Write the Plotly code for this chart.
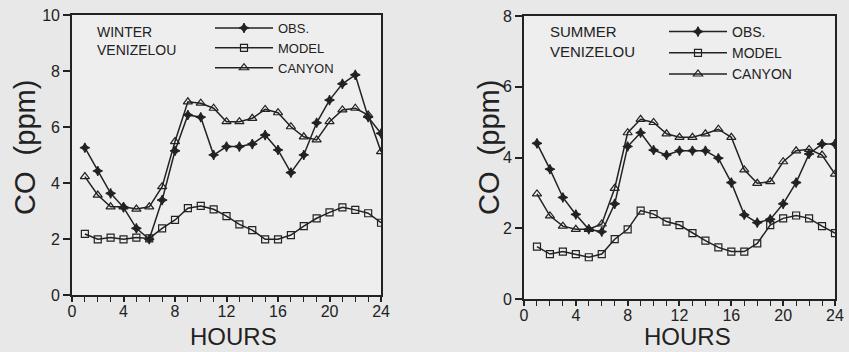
import plotly.graph_objects as go

hours = list(range(1, 25))

winter_obs = [5.26, 4.43, 3.63, 3.13, 2.38, 1.99, 3.39, 5.15, 6.43, 6.35, 5.0, 5.3,
              5.3, 5.39, 5.71, 5.18, 4.37, 5.0, 6.15, 6.96, 7.54, 7.86, 6.35, 5.77]
winter_model = [2.18, 1.99, 2.05, 1.99, 2.05, 2.02, 2.38, 2.68, 3.10, 3.18, 3.06, 2.82,
                2.52, 2.32, 1.99, 1.99, 2.14, 2.46, 2.74, 2.95, 3.13, 3.04, 2.92, 2.58]
winter_canyon = [4.23, 3.57, 3.15, 3.15, 3.07, 3.15, 3.87, 5.48, 6.90, 6.85, 6.67, 6.19,
                 6.19, 6.31, 6.63, 6.51, 6.01, 5.65, 5.54, 6.19, 6.61, 6.67, 6.43, 5.12]

summer_obs = [4.40, 3.67, 2.87, 2.39, 1.97, 1.90, 2.69, 4.31, 4.70, 4.21, 4.07, 4.19,
              4.19, 4.19, 3.98, 3.29, 2.38, 2.16, 2.25, 2.69, 3.29, 4.10, 4.38, 4.38]
summer_model = [1.48, 1.27, 1.34, 1.27, 1.18, 1.27, 1.69, 1.97, 2.50, 2.40, 2.19, 2.09,
                1.86, 1.65, 1.46, 1.34, 1.34, 1.57, 2.09, 2.28, 2.36, 2.28, 2.06, 1.86]
summer_canyon = [2.97, 2.35, 2.06, 1.97, 1.97, 2.12, 3.13, 4.70, 5.08, 4.99, 4.67, 4.57,
                 4.57, 4.67, 4.80, 4.57, 3.65, 3.27, 3.32, 3.88, 4.19, 4.23, 4.07, 3.53]

series_names = ["OBS.", "MODEL", "CANYON"]
x_ticks = [0, 4, 8, 12, 16, 20, 24]
FONT = "Liberation Sans"
INK = "#222222"

symbols = ["star-diamond", "square-open", "triangle-up-open"]
sizes = [7, 7, 8]

fig = go.Figure()

panels = [
    ("x", "y", "legend", [winter_obs, winter_model, winter_canyon]),
    ("x2", "y2", "legend2", [summer_obs, summer_model, summer_canyon]),
]
for xa, ya, lg, data in panels:
    for name, vals, sym, sz in zip(series_names, data, symbols, sizes):
        fig.add_trace(go.Scatter(
            x=hours, y=vals, name=name, xaxis=xa, yaxis=ya, legend=lg,
            mode="lines+markers",
            line=dict(color=INK, width=1.5),
            marker=dict(symbol=sym, size=sz, color=INK,
                        line=dict(color=INK, width=1.2)),
        ))

axis_common = dict(
    showline=True, linecolor=INK, linewidth=1.6, mirror=True,
    ticks="outside", tickcolor=INK, tickwidth=1.5,
    showgrid=False, zeroline=False, automargin=False,
    tickfont=dict(family=FONT, size=16, color=INK),
)
x_common = dict(range=[0, 24], tickvals=x_ticks, ticklen=5, ticklabelstandoff=-4,
                minor=dict(dtick=1, ticks="outside", ticklen=5, tickcolor=INK, tickwidth=1.2))

fig.update_layout(
    width=849, height=352,
    margin=dict(l=0, r=0, t=0, b=0, pad=0, autoexpand=False),
    paper_bgcolor="#e8e8e8",
    plot_bgcolor="#eeeeee",
    showlegend=True,
    xaxis=dict(domain=[0.0848, 0.4488], **x_common, **axis_common),
    yaxis=dict(domain=[0.1619, 0.9574], range=[0, 10], dtick=2, ticklen=7, anchor="x",
               **axis_common),
    xaxis2=dict(domain=[0.6172, 0.9835], anchor="y2", **x_common, **axis_common),
    yaxis2=dict(domain=[0.1506, 0.9545], range=[0, 8], dtick=2, ticklen=7, anchor="x2",
                **axis_common),
    legend=dict(x=210 / 849, y=1 - 13 / 352, xanchor="left", yanchor="top",
                bgcolor="rgba(0,0,0,0)", itemwidth=58, tracegroupgap=0,
                font=dict(family=FONT, size=13, color=INK)),
    legend2=dict(x=664 / 849, y=1 - 16 / 352, xanchor="left", yanchor="top",
                 bgcolor="rgba(0,0,0,0)", itemwidth=58, tracegroupgap=0,
                 font=dict(family=FONT, size=14, color=INK)),
)

ann = [
    dict(text="WINTER<br>VENIZELOU", x=95 / 849, y=1 - 22 / 352, size=14, align="left",
         xanchor="left", yanchor="top", angle=0),
    dict(text="SUMMER<br>VENIZELOU", x=548 / 849, y=1 - 21 / 352, size=15, align="left",
         xanchor="left", yanchor="top", angle=0),
    dict(text="CO  (ppm)", x=25 / 849, y=1 - 148 / 352, size=29, align="center",
         xanchor="center", yanchor="middle", angle=-90),
    dict(text="CO  (ppm)", x=489 / 849, y=1 - 148 / 352, size=29, align="center",
         xanchor="center", yanchor="middle", angle=-90),
    dict(text="HOURS", x=233 / 849, y=0, size=24, align="center",
         xanchor="center", yanchor="bottom", angle=0),
    dict(text="HOURS", x=687 / 849, y=0, size=24, align="center",
         xanchor="center", yanchor="bottom", angle=0),
]
for a in ann:
    fig.add_annotation(text=a["text"], x=a["x"], y=a["y"], xref="paper", yref="paper",
                       showarrow=False, align=a["align"], xanchor=a["xanchor"],
                       yanchor=a["yanchor"], textangle=a["angle"],
                       font=dict(family=FONT, size=a["size"], color=INK))

fig.write_html("out.html")
